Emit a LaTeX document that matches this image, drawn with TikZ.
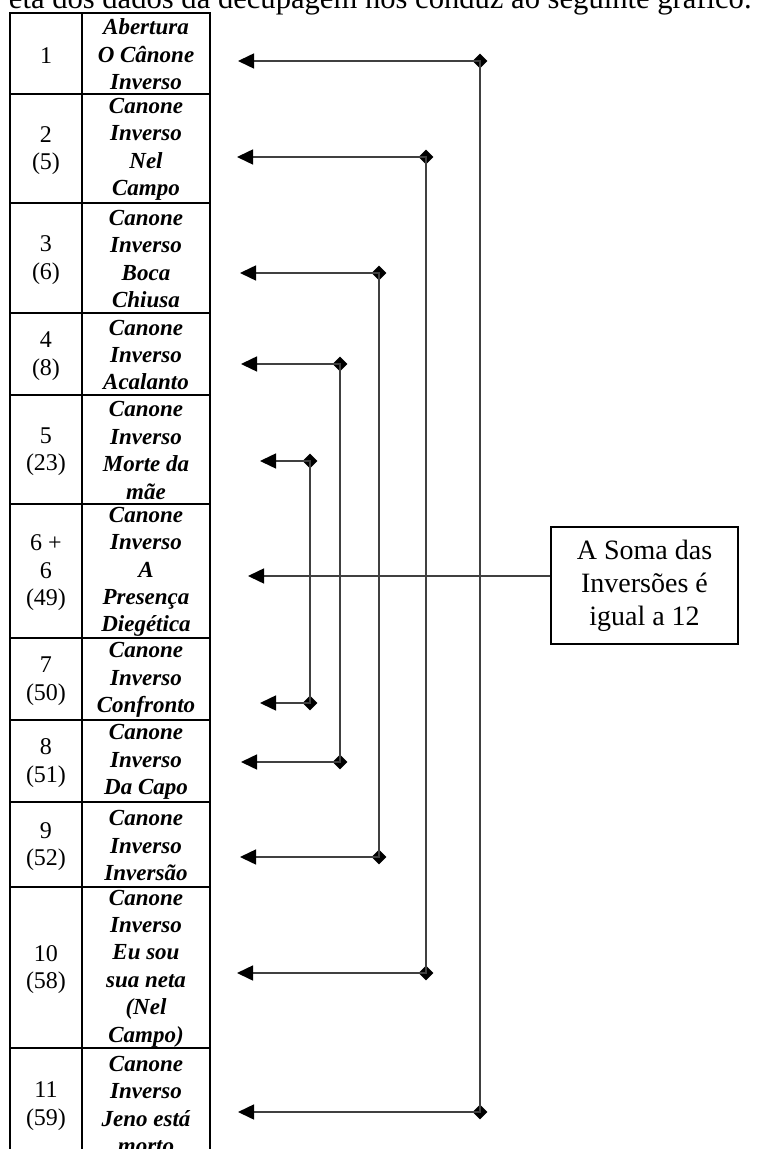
\documentclass[tikz,border=0pt]{standalone}
\usepackage{fontspec}
\setmainfont{Liberation Serif}
\usetikzlibrary{arrows.meta,shapes.geometric}

\tikzset{
  grid/.style = {line width=0.75pt},
  numtext/.style = {align=center, inner sep=0pt, font=\fontsize{12}{13.7}\selectfont},
  tittext/.style = {align=center, inner sep=0pt, font=\fontsize{11.5}{13.7}\selectfont\bfseries\itshape},
  knob/.style = {diamond, fill=black, inner sep=0pt, minimum width=7.5pt, minimum height=7.5pt},
  link/.style = {black!75, line width=0.75pt, {Triangle[length=8pt,width=7.5pt,black]}-{Triangle[length=8pt,width=7.5pt,black]}},
  soma/.style = {draw, line width=0.75pt, align=center, inner sep=0pt, minimum width=93.5pt, minimum height=58.5pt,
    font=\fontsize{14}{16.5}\selectfont}
}

\begin{document}
\begin{tikzpicture}[x=0.5pt, y=-0.5pt]
\useasboundingbox (0,0) rectangle (758,1149);
\clip (0,0) rectangle (758,1149);

% texto cortado no alto da pagina
\node[anchor=base east, inner sep=0pt, font=\fontsize{15.3}{18}\selectfont] (intro) at (752,9)
  {eta dos dados da decupagem nos conduz ao seguinte gráfico.};

% tabela : numero / topo / base / cena / titulo
\foreach \r/\top/\bot/\num/\tit in {
  1/13/94/{1}/{Abertura\\O Cânone\\Inverso},
  2/94/203/{2\\(5)}/{Canone\\Inverso\\Nel\\Campo},
  3/203/313/{3\\(6)}/{Canone\\Inverso\\Boca\\Chiusa},
  4/313/395/{4\\(8)}/{Canone\\Inverso\\Acalanto},
  5/395/504/{5\\(23)}/{Canone\\Inverso\\Morte da\\mãe},
  6/504/638/{6 +\\6\\(49)}/{Canone\\Inverso\\A\\Presença\\Diegética},
  7/638/720/{7\\(50)}/{Canone\\Inverso\\Confronto},
  8/720/802/{8\\(51)}/{Canone\\Inverso\\Da Capo},
  9/802/887/{9\\(52)}/{Canone\\Inverso\\Inversão},
  10/887/1048/{10\\(58)}/{Canone\\Inverso\\Eu sou\\sua neta\\(Nel\\Campo)},
  11/1048/1160/{11\\(59)}/{Canone\\Inverso\\Jeno está\\morto}}
{
  \draw[grid] (10,\top) rectangle (210,\bot);
  \draw[grid] (82,\top) -- (82,\bot);
  \node[numtext] (num\r) at (46,{(\top+\bot)/2+2}) {\num};
  \node[tittext] (tit\r) at (146,{(\top+\bot)/2+1}) {\tit};
}

% pares de inversoes : x du losange / y haut / y bas / x des pointes
\foreach \b/\xd/\ya/\yb/\xt in {1/480/61/1112/238, 2/426/157/973/237, 3/379/273/857/240,
                                4/340/364/762/241, 5/310/461/703/260}
{
  \coordinate (tipA\b) at (\xt,\ya);
  \coordinate (tipB\b) at (\xt,\yb);
  \node[knob] (knobA\b) at (\xd,\ya) {};
  \node[knob] (knobB\b) at (\xd,\yb) {};
  \draw[link] (tipA\b) -- (knobA\b.center) -- (knobB\b.center) -- (tipB\b);
}

% caixa da soma
\node[soma] (soma) at (644.5,585.5) {A Soma das\\Inversões é\\igual a 12};
\coordinate (tipM) at (248,576);
\draw[link, -{Triangle[length=8pt,width=7.5pt,black]}] (tipM -| soma.west) -- (tipM);
\end{tikzpicture}
\end{document}
